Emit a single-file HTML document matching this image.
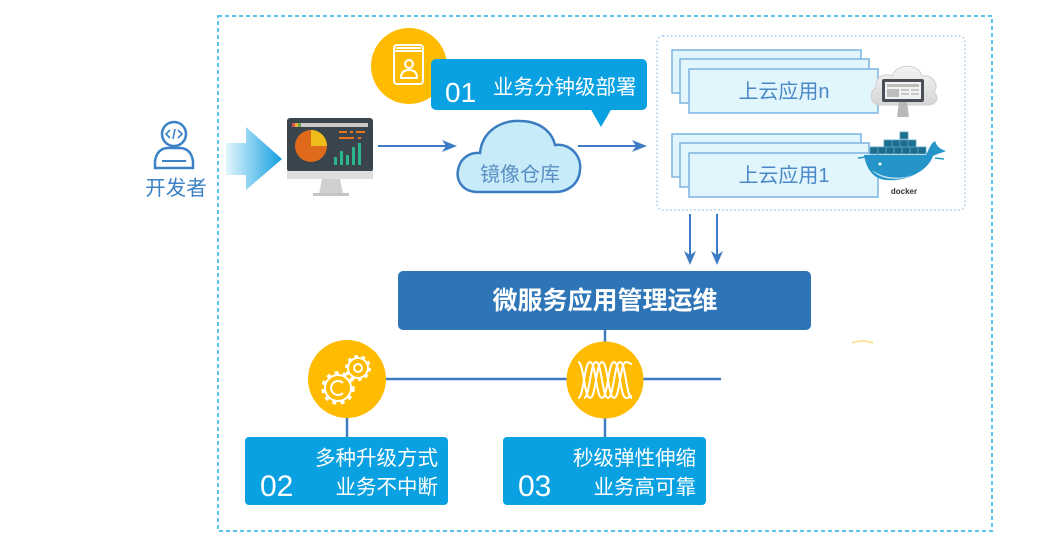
<!DOCTYPE html>
<html><head><meta charset="utf-8"><style>
html,body{margin:0;padding:0;background:#fff;}
svg{display:block;}
text{font-family:"Liberation Sans","Noto Sans CJK SC",sans-serif;}
</style></head><body>
<svg width="1040" height="546" viewBox="0 0 1040 546" xmlns="http://www.w3.org/2000/svg">
<defs>
<linearGradient id="ga" x1="0" y1="0" x2="1" y2="0">
<stop offset="0" stop-color="#e3f5fd"/><stop offset="1" stop-color="#13a0e0"/>
</linearGradient>
<linearGradient id="gc" x1="0" y1="0" x2="0" y2="1">
<stop offset="0" stop-color="#f4f4f4"/><stop offset="1" stop-color="#d6d6d6"/>
</linearGradient>
</defs>

<!-- outer dashed frame -->
<rect x="218" y="16" width="774" height="515" fill="none" stroke="#5cc3ef" stroke-width="2" stroke-dasharray="4 3"/>

<!-- developer -->
<g stroke="#3d82c6" stroke-width="2.5" fill="none">
<circle cx="174" cy="134" r="12"/>
<path d="M155 168 L155 161 Q157 149 167 148 L181 148 Q191 149 193 161 L193 168 Z"/>
<line x1="162" y1="161" x2="186" y2="161" stroke-width="2"/>
<path d="M170 130 L166 134 L170 138 M178 130 L182 134 L178 138 M175 129 L173 139" stroke-width="1.6"/>
</g>
<text x="176" y="195" font-size="20.5" fill="#3d82c6" text-anchor="middle">开发者</text>

<!-- gradient arrow -->
<polygon points="226,143 246,143 246,127 282,159 246,190 246,175 226,175" fill="url(#ga)"/>

<!-- monitor -->
<rect x="287" y="118" width="86" height="54" rx="3" fill="#3a444c"/>
<rect x="292" y="123" width="76" height="4" fill="#c9c9c9"/>
<rect x="292" y="123" width="3" height="4" fill="#d9534f"/>
<rect x="295" y="123" width="3" height="4" fill="#e8b33a"/>
<rect x="298" y="123" width="3" height="4" fill="#6aa84f"/>
<circle cx="311" cy="146" r="16" fill="#e06a1c"/>
<path d="M311 146 L311 130 A16 16 0 0 1 327 146 Z" fill="#efbd1b"/>
<rect x="339" y="131" width="8" height="2" fill="#e8731c"/>
<rect x="350" y="131" width="3" height="2" fill="#e8731c"/>
<rect x="356" y="131" width="9" height="2" fill="#e8731c"/>
<rect x="339" y="137" width="15" height="2" fill="#e8731c"/>
<rect x="358" y="137" width="3" height="2" fill="#e8731c"/>
<rect x="334" y="157" width="3" height="8" fill="#2cb58a"/>
<rect x="340" y="151" width="3" height="14" fill="#2cb58a"/>
<rect x="346" y="155" width="3" height="10" fill="#2cb58a"/>
<rect x="352" y="147" width="3" height="18" fill="#2cb58a"/>
<rect x="358" y="143" width="3" height="22" fill="#2cb58a"/>
<rect x="287" y="171" width="86" height="8" fill="#dedede"/>
<polygon points="322,179 340,179 343,194 319,194" fill="#d0d0d0"/>
<rect x="313" y="193" width="36" height="3" fill="#c4c4c4"/>

<!-- arrows top row -->
<g stroke="#3d7cc4" stroke-width="2">
<line x1="378" y1="146" x2="448" y2="146"/>
<line x1="578" y1="146" x2="638" y2="146"/>
</g>
<polygon points="442,140 457,146 442,152 446,146" fill="#3d7cc4"/>
<polygon points="632,140 647,146 632,152 636,146" fill="#3d7cc4"/>

<!-- cloud -->
<path d="M478 192 C462 192 456 180 458 170 C460 158 470 152 480 153 C482 132 500 120 520 121 C540 121 552 132 555 145 C570 143 582 156 580 170 C579 184 568 192 555 192 Z" fill="#c8ebfa" stroke="#3a7dc0" stroke-width="2.5"/>
<text x="520" y="181" font-size="20" fill="#5a8fc2" text-anchor="middle">镜像仓库</text>

<!-- callout 01 -->
<circle cx="409" cy="66" r="38" fill="#ffbb00"/>
<g stroke="#fff" stroke-width="2" fill="none">
<rect x="394" y="45" width="29" height="39" rx="3"/>
<path d="M394 51 L423 51 M396 48 L421 48"/>
<circle cx="409" cy="64" r="4"/>
<path d="M401 78 Q401 70 409 70 Q417 70 417 78 Z"/>
</g>
<rect x="431" y="59" width="216" height="51" rx="5" fill="#0aa1e2"/>
<polygon points="590,108 612,108 601,127" fill="#0aa1e2"/>
<text x="445" y="102" font-size="28" fill="#fff">01</text>
<text x="493" y="94" font-size="20.5" fill="#fff">业务分钟级部署</text>

<!-- inner dotted box -->
<rect x="657" y="36" width="308" height="174" rx="6" fill="none" stroke="#a6c8e6" stroke-width="1.5" stroke-dasharray="1.5 2.5"/>

<!-- stacks -->
<g fill="#e1f5fd" stroke="#7db3e2" stroke-width="1.5">
<rect x="672" y="50" width="189" height="43"/>
<rect x="680" y="59" width="189" height="44"/>
<rect x="689" y="69" width="189" height="44"/>
<rect x="672" y="134" width="189" height="43"/>
<rect x="680" y="143" width="189" height="44"/>
<rect x="689" y="153" width="189" height="44"/>
</g>
<text x="784" y="98" font-size="20" fill="#4a88c7" text-anchor="middle">上云应用n</text>
<text x="784" y="182" font-size="20" fill="#4a88c7" text-anchor="middle">上云应用1</text>

<!-- cloud monitor icon -->
<path d="M880 105 C870 105 868 92 876 88 C874 78 884 72 892 76 C896 64 918 62 922 76 C932 74 940 84 934 92 C940 98 936 105 928 105 Z" fill="url(#gc)" stroke="#cfcfcf" stroke-width="1"/>
<rect x="882" y="79" width="42" height="23" rx="2" fill="#4a4f55"/>
<rect x="885" y="82" width="36" height="17" fill="#f2f2f2"/>
<rect x="887" y="84" width="32" height="3" fill="#bdbdbd"/>
<rect x="887" y="89" width="12" height="8" fill="#bdbdbd"/>
<rect x="901" y="89" width="8" height="2" fill="#c8c8c8"/>
<rect x="911" y="89" width="8" height="2" fill="#c8c8c8"/>
<rect x="901" y="93" width="8" height="2" fill="#c8c8c8"/>
<rect x="911" y="93" width="8" height="2" fill="#c8c8c8"/>
<polygon points="899,102 907,102 909,117 897,117" fill="#b8b8b8"/>

<!-- docker -->
<g fill="#1f6d8e" stroke="#5aa5c4" stroke-width="0.8">
<rect x="900" y="132" width="8" height="7"/>
<rect x="884" y="140" width="8" height="7"/><rect x="892" y="140" width="8" height="7"/><rect x="900" y="140" width="8" height="7"/><rect x="908" y="140" width="8" height="7"/>
<rect x="870" y="147" width="8" height="7"/><rect x="878" y="147" width="8" height="7"/><rect x="886" y="147" width="8" height="7"/><rect x="894" y="147" width="8" height="7"/><rect x="902" y="147" width="8" height="7"/><rect x="910" y="147" width="8" height="7"/><rect x="918" y="147" width="8" height="7"/>
</g>
<path d="M864 155 L926 155 C929 149 931 143 935 141 C937 147 940 149 946 151 C941 153 937 154 933 156 C928 171 906 182 886 180 C873 179 866 168 864 155 Z" fill="#2595c9"/>
<path d="M872 170 C880 180 900 182 915 174 C905 179 885 180 872 170 Z" fill="#bfe3f2"/>
<circle cx="880" cy="164" r="1.5" fill="#fff"/>
<line x1="858" y1="158" x2="866" y2="157" stroke="#2595c9" stroke-width="1.5"/>
<line x1="935" y1="158" x2="944" y2="159" stroke="#2595c9" stroke-width="1.5"/>
<text x="904" y="194" font-size="8" font-weight="bold" fill="#333" text-anchor="middle">docker</text>

<!-- down arrows -->
<g stroke="#3d7cc4" stroke-width="2">
<line x1="690" y1="214" x2="690" y2="258"/>
<line x1="717" y1="214" x2="717" y2="258"/>
</g>
<polygon points="684,251 690,265 696,251 690,255" fill="#3d7cc4"/>
<polygon points="711,251 717,265 723,251 717,255" fill="#3d7cc4"/>

<!-- main bar -->
<rect x="398" y="271" width="413" height="59" rx="5" fill="#2e75b8"/>
<text x="605" y="309" font-size="25" font-weight="bold" fill="#fff" text-anchor="middle">微服务应用管理运维</text>

<!-- connectors -->
<g stroke="#3f7cc2" stroke-width="2.5">
<line x1="605" y1="330" x2="605" y2="345"/>
<line x1="380" y1="379" x2="721" y2="379"/>
<line x1="347" y1="414" x2="347" y2="438"/>
<line x1="605" y1="414" x2="605" y2="438"/>
</g>
<path d="M852 343 Q862 339 873 343" fill="none" stroke="#fbe2a0" stroke-width="2"/>

<!-- gear circle -->
<circle cx="347" cy="379" r="39" fill="#ffbb00"/>
<g fill="none" stroke="#fff">
<circle cx="338" cy="388" r="15" stroke-width="3.5" stroke-dasharray="4 4.4"/>
<circle cx="338" cy="388" r="13" fill="#ffbb00" stroke-width="2"/>
<path d="M343 383 A7 7 0 1 0 343 393" stroke-width="2"/>
<circle cx="358" cy="368" r="11.5" stroke-width="3" stroke-dasharray="3.4 3.8" fill="none"/>
<circle cx="358" cy="368" r="10" fill="#ffbb00" stroke-width="2"/>
<circle cx="358" cy="368" r="4" stroke-width="2"/>
</g>

<!-- wave circle -->
<circle cx="605" cy="380" r="38.5" fill="#ffbb00"/>
<g fill="none" stroke="#fff" stroke-width="2">
<path d="M578 398 C584 398 584 362 590 362 C596 362 596 398 602 398 C608 398 608 362 614 362 C620 362 620 398 626 398 C629 398 630 396 632 396"/>
<path d="M578 362 C584 362 584 398 590 398 C596 398 596 362 602 362 C608 362 608 398 614 398 C620 398 620 362 626 362 C629 362 630 364 632 364"/>
<path d="M584 398 C590 398 590 362 596 362 C602 362 602 398 608 398 C614 398 614 362 620 362 C626 362 626 398 632 398"/>
</g>

<!-- box 02 -->
<rect x="245" y="437" width="203" height="68" rx="4" fill="#0aa1e2"/>
<text x="260" y="496" font-size="30" fill="#fff">02</text>
<text x="438" y="465" font-size="20.5" fill="#fff" text-anchor="end">多种升级方式</text>
<text x="438" y="494" font-size="20.5" fill="#fff" text-anchor="end">业务不中断</text>

<!-- box 03 -->
<rect x="503" y="437" width="203" height="68" rx="4" fill="#0aa1e2"/>
<text x="518" y="496" font-size="30" fill="#fff">03</text>
<text x="696" y="465" font-size="20.5" fill="#fff" text-anchor="end">秒级弹性伸缩</text>
<text x="696" y="494" font-size="20.5" fill="#fff" text-anchor="end">业务高可靠</text>
</svg>
</body></html>
